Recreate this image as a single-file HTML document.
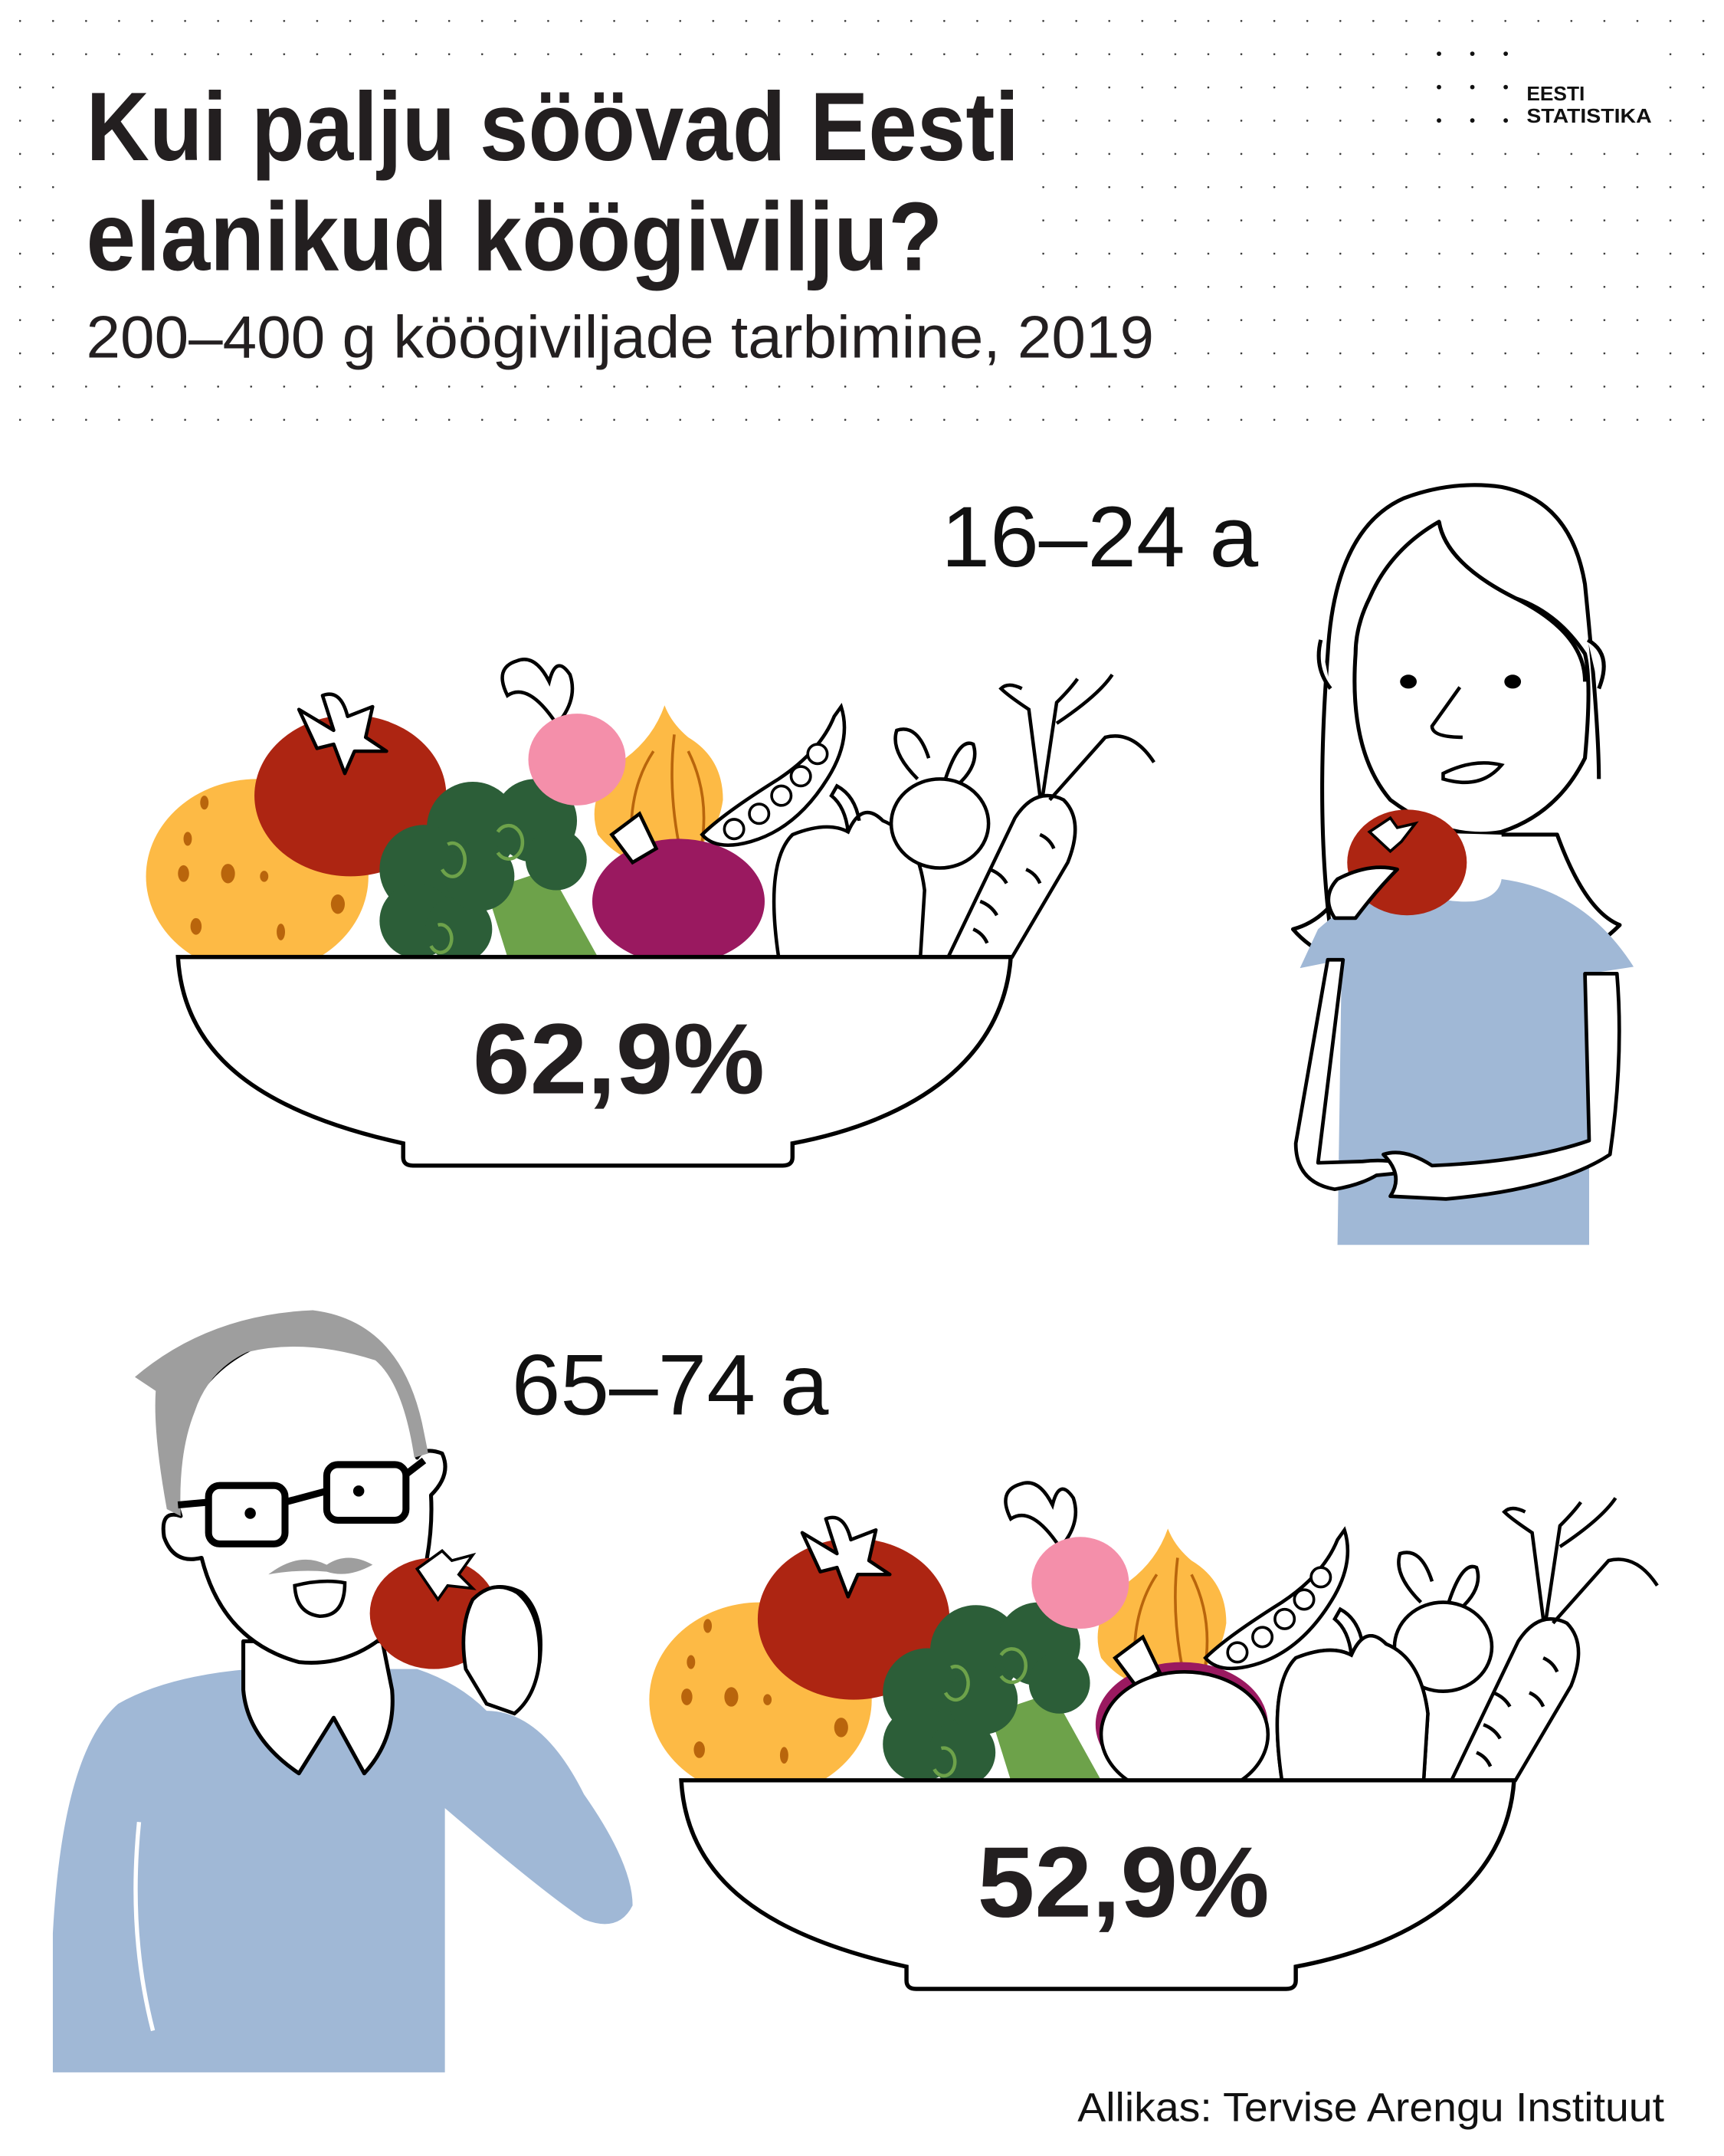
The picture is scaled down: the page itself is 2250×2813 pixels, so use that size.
<!DOCTYPE html>
<html><head><meta charset="utf-8"><style>
html,body{margin:0;padding:0;background:#fff}
svg{display:block}
</style></head><body>
<svg width="2250" height="2813" viewBox="0 0 1240 1550" xmlns="http://www.w3.org/2000/svg" font-family="'Liberation Sans', sans-serif">
<defs>
<pattern id="dots" x="13.8" y="14.3" width="23.74" height="23.9" patternUnits="userSpaceOnUse">
<circle cx="0.6" cy="0.6" r="0.75" fill="#333"/>
</pattern>
<g id="veg">
  <!-- potato -->
  <ellipse cx="185" cy="630" rx="80" ry="70" fill="#FDBA45"/>
  <g fill="#B9650C"><ellipse cx="135" cy="603" rx="3" ry="5"/><ellipse cx="147" cy="577" rx="3" ry="5"/><ellipse cx="132" cy="628" rx="4" ry="6"/><ellipse cx="164" cy="628" rx="5" ry="7"/><ellipse cx="190" cy="630" rx="3" ry="4"/><ellipse cx="243" cy="650" rx="5" ry="7"/><ellipse cx="141" cy="666" rx="4" ry="6"/><ellipse cx="202" cy="670" rx="3" ry="6"/></g>
  <!-- tomato -->
  <ellipse cx="252" cy="572" rx="69" ry="58" fill="#AD2512"/>
  <path d="M228,538 L215,510 L240,525 L232,500 Q245,495 250,515 L268,508 L263,530 L278,540 L255,540 L248,556 L240,535 Z" fill="#fff" stroke="#000" stroke-width="2.5" stroke-linejoin="round"/>
  <!-- broccoli -->
  <path d="M350,640 L395,625 L430,688 L365,688 Z" fill="#6DA24A"/>
  <g fill="#2C5E38"><circle cx="340" cy="595" r="33"/><circle cx="385" cy="590" r="30"/><circle cx="400" cy="618" r="22"/><circle cx="305" cy="625" r="32"/><circle cx="300" cy="662" r="27"/><circle cx="330" cy="668" r="24"/><circle cx="345" cy="630" r="25"/></g>
  <g fill="none" stroke="#6DA24A" stroke-width="2.5"><path d="M318,625 a9,12 0 1 0 4,-18"/><path d="M358,598 a10,12 0 1 1 0,15"/><path d="M310,680 a8,10 0 1 0 5,-15"/></g>
  <!-- onion -->
  <path d="M478,507 Q470,530 450,545 Q420,570 430,600 Q450,625 480,620 Q515,610 520,575 Q520,545 495,530 Q483,520 478,507Z" fill="#FDBA45"/>
  <path d="M470,540 Q450,570 455,615 M485,528 Q480,570 490,615 M495,540 Q510,570 505,605" fill="none" stroke="#B9650C" stroke-width="2"/>
  <!-- radish -->
  <path d="M400,520 Q380,490 365,500 Q355,480 372,475 Q385,470 395,490 Q400,470 410,485 Q415,500 405,515 Z" fill="#fff" stroke="#000" stroke-width="2.5"/>
  <ellipse cx="415" cy="546" rx="35" ry="33" fill="#F48FAA"/>
  <!-- beet -->
  <g class="beet"><ellipse cx="488" cy="648" rx="62" ry="45" fill="#9A1960"/></g>
  <path d="M440,600 L460,585 L472,610 L455,620 Z" fill="#fff" stroke="#000" stroke-width="2.5"/>
  <!-- pea pod -->
  <path d="M505,600 Q520,585 560,560 Q590,540 600,515 L605,508 Q612,530 598,555 Q575,595 540,605 Q515,612 505,600Z" fill="#fff" stroke="#000" stroke-width="2.5"/>
  <g fill="#fff" stroke="#000" stroke-width="2"><circle cx="528" cy="596" r="7"/><circle cx="546" cy="585" r="7"/><circle cx="562" cy="572" r="7"/><circle cx="576" cy="558" r="7"/><circle cx="588" cy="542" r="7"/></g>
  <!-- pepper -->
  <path d="M560,688 Q550,620 570,600 Q595,590 610,598 Q620,575 635,590 Q660,600 665,640 L662,688 Z" fill="#fff" stroke="#000" stroke-width="2.5"/>
  <path d="M610,598 Q608,580 598,572 L602,565 Q615,572 618,590" fill="none" stroke="#000" stroke-width="2.5"/>
  <!-- turnip -->
  <path d="M660,560 Q640,540 645,525 Q660,520 668,545 M680,560 Q690,530 700,535 Q705,550 688,565" fill="#fff" stroke="#000" stroke-width="2.5"/>
  <ellipse cx="676" cy="592" rx="35" ry="32" fill="#fff" stroke="#000" stroke-width="2.5"/>
  <!-- carrot -->
  <path d="M682,688 L730,588 Q745,565 765,575 Q780,590 768,620 L728,688 Z" fill="#fff" stroke="#000" stroke-width="2.5"/>
  <path d="M712,625 q8,3 12,10 M705,648 q8,3 12,10 M700,668 q7,3 10,10 M748,600 q7,3 10,10 M738,625 q7,3 10,10" fill="none" stroke="#000" stroke-width="2.5"/>
  <path d="M748,572 L740,510 Q725,500 720,495 Q725,490 735,495 M750,572 L760,505 Q770,495 775,488 M755,575 L795,530 Q815,525 830,548 M760,520 Q790,500 800,485" fill="none" stroke="#000" stroke-width="2.5"/>
</g>
</defs>
<rect width="1240" height="1550" fill="#fff"/>
<rect x="0" y="0" width="1240" height="305" fill="url(#dots)"/>
<rect x="45" y="48" width="701" height="176" fill="#fff"/>
<rect x="45" y="224" width="793" height="44" fill="#fff"/>
<rect x="1090" y="30" width="102" height="66" fill="#fff"/>
<g fill="#111"><circle cx="1035" cy="38.5" r="1.6"/><circle cx="1059" cy="38.5" r="1.6"/><circle cx="1083" cy="38.5" r="1.6"/><circle cx="1035" cy="62.5" r="1.6"/><circle cx="1059" cy="62.5" r="1.6"/><circle cx="1083" cy="62.5" r="1.6"/><circle cx="1035" cy="86.5" r="1.6"/><circle cx="1059" cy="86.5" r="1.6"/><circle cx="1083" cy="86.5" r="1.6"/></g>
<text x="1098" y="72" font-size="14.5" font-weight="bold" fill="#111">EESTI</text>
<text x="1098" y="88" font-size="14.5" font-weight="bold" fill="#111" textLength="90" lengthAdjust="spacingAndGlyphs">STATISTIKA</text>

<text x="62" y="115" font-size="70" font-weight="bold" fill="#231F20" textLength="671" lengthAdjust="spacingAndGlyphs">Kui palju söövad Eesti</text>
<text x="62" y="194" font-size="70" font-weight="bold" fill="#231F20" textLength="616" lengthAdjust="spacingAndGlyphs">elanikud köögivilju?</text>
<text x="62" y="257" font-size="43" fill="#231F20" textLength="768" lengthAdjust="spacingAndGlyphs">200–400 g köögiviljade tarbimine, 2019</text>

<text x="677" y="407" font-size="62" fill="#111" textLength="228" lengthAdjust="spacingAndGlyphs">16–24 a</text>
<text x="368" y="1017" font-size="62" fill="#111" textLength="228" lengthAdjust="spacingAndGlyphs">65–74 a</text>

<!-- bowl 1 -->
<use href="#veg"/>
<path d="M128,688 L727,688 C722,760 660,805 570,822 L570,832 Q570,838 563,838 L297,838 Q290,838 290,832 L290,822 C190,800 132,760 128,688Z" fill="#fff" stroke="#000" stroke-width="3"/>
<text x="445" y="786" font-size="72" font-weight="bold" fill="#231F20" text-anchor="middle" textLength="210" lengthAdjust="spacingAndGlyphs">62,9%</text>

<!-- bowl 2 -->
<g transform="translate(362,592)">
<use href="#veg"/>
<ellipse cx="490" cy="655" rx="60" ry="45" fill="#fff" stroke="#000" stroke-width="2.5"/>
<path d="M560,688 Q550,620 570,600 Q595,590 610,598 Q620,575 635,590 Q660,600 665,640 L662,688 Z" fill="#fff" stroke="#000" stroke-width="2.5"/>
<path d="M128,688 L727,688 C722,760 660,805 570,822 L570,832 Q570,838 563,838 L297,838 Q290,838 290,832 L290,822 C190,800 132,760 128,688Z" fill="#fff" stroke="#000" stroke-width="3"/>
<text x="446" y="786" font-size="72" font-weight="bold" fill="#231F20" text-anchor="middle" textLength="210" lengthAdjust="spacingAndGlyphs">52,9%</text>
</g>

<!-- girl -->
<g stroke="#000" stroke-width="2.8" stroke-linejoin="round">
  <path d="M930,668 Q960,660 975,620 L980,600 L1120,600 Q1140,655 1165,665 Q1150,680 1130,690 L960,690 Q940,680 930,668Z" fill="#fff"/>
  <path d="M960,690 Q945,600 955,470 Q960,380 1010,358 Q1045,345 1080,350 Q1130,360 1140,420 Q1150,520 1150,560" fill="none"/>
  <path d="M950,460 Q945,480 957,495 M1142,460 Q1160,470 1150,495" fill="#fff"/>
  <path d="M975,470 Q970,540 1000,575 Q1040,605 1080,598 Q1120,585 1140,545 Q1145,490 1140,470 Q1120,440 1090,430 Q1040,405 1035,375 Q1000,395 985,430 Q975,450 975,470Z" fill="#fff"/>
  <path d="M1035,375 Q1040,405 1090,430 Q1140,455 1140,490" fill="none"/>
</g>
<path d="M962,895 L965,690 L935,696 L948,668 Q980,640 1010,632 L1080,632 Q1140,640 1175,695 L1143,700 L1143,895Z" fill="#A0B8D6"/>
<path d="M1005,632 Q1030,650 1060,648 Q1078,645 1080,632 L1080,600 L1005,598Z" fill="#fff"/>
<g fill="#000"><ellipse cx="1013" cy="490" rx="6" ry="5"/><ellipse cx="1088" cy="490" rx="6" ry="5"/></g>
<path d="M1050,494 L1030,522 Q1030,530 1052,530 M1038,556 Q1060,545 1080,550 Q1065,568 1038,560Z" fill="#fff" stroke="#000" stroke-width="2.5"/>
<ellipse cx="1012" cy="620" rx="43" ry="38" fill="#AD2512"/>
<path d="M985,598 L1000,588 L1005,595 L1018,592 L1008,605 L1000,612 Z" fill="#fff" stroke="#000" stroke-width="2"/>
<g fill="#fff" stroke="#000" stroke-width="2.6" stroke-linejoin="round">
  <path d="M955,690 L932,822 Q932,850 960,855 Q978,852 990,845 L1020,842 Q1005,832 980,835 L948,836 L966,690Z"/>
  <path d="M962,632 Q985,620 1005,625 Q990,640 975,660 L960,660 Q950,645 962,632Z"/>
  <path d="M1140,700 L1143,820 Q1100,835 1030,838 Q1010,825 995,830 Q1010,845 1000,860 L1040,862 Q1120,855 1158,830 Q1168,760 1163,700Z"/>
</g>

<!-- man -->
<path d="M38,1490 L38,1390 Q45,1260 85,1225 Q120,1205 180,1200 L300,1200 Q330,1210 350,1230 Q390,1230 420,1290 Q455,1340 455,1370 Q445,1390 420,1380 Q390,1360 320,1300 L320,1490 Z" fill="#A0B8D6"/>
<path d="M100,1310 Q92,1390 110,1460" fill="none" stroke="#fff" stroke-width="3"/>
<g stroke="#000" stroke-width="2.8" stroke-linejoin="round" fill="#fff">
  <path d="M175,1180 L175,1215 Q178,1250 215,1275 L240,1235 L262,1275 Q285,1250 282,1215 L275,1180Z"/>
  <path d="M135,1015 Q120,1060 130,1090 Q115,1085 118,1105 Q125,1125 145,1120 Q160,1180 215,1195 Q265,1200 300,1150 Q312,1110 310,1075 Q325,1060 318,1045 Q305,1040 300,1048 Q300,1000 280,975 Q230,955 180,970 Q150,985 135,1015Z"/>
  <path d="M345,1210 Q335,1170 340,1150 Q355,1135 375,1145 Q392,1160 388,1195 Q380,1220 370,1230 Z"/>
</g>
<path d="M97,990 Q150,945 225,942 Q290,950 305,1030 L308,1045 L298,1048 Q290,995 270,978 Q220,962 178,972 Q150,985 140,1015 Q128,1045 130,1090 L120,1085 Q110,1030 112,1000 Z" fill="#9E9E9E"/>
<g fill="none" stroke="#000" stroke-width="5"><rect x="150" y="1068" width="55" height="42" rx="8"/><rect x="235" y="1053" width="57" height="40" rx="8"/><path d="M205,1080 L235,1072 M292,1060 L305,1050 M150,1080 L128,1082"/></g>
<g fill="#000"><circle cx="180" cy="1088" r="4"/><circle cx="258" cy="1072" r="4"/></g>
<path d="M193,1132 Q215,1115 235,1125 Q250,1115 268,1125 Q250,1135 235,1130 Q215,1128 193,1132Z" fill="#9E9E9E"/>
<path d="M212,1140 Q232,1135 248,1138 Q248,1162 230,1162 Q213,1160 212,1140Z" fill="#fff" stroke="#000" stroke-width="2.5"/>
<ellipse cx="312" cy="1160" rx="46" ry="40" fill="#AD2512"/>
<path d="M300,1128 L318,1115 L325,1122 L340,1118 L330,1132 L340,1142 L322,1140 L315,1150 Z" fill="#fff" stroke="#000" stroke-width="2"/>
<path d="M335,1200 Q330,1170 340,1150 Q355,1135 372,1145 Q390,1160 388,1195 Q385,1220 370,1232 L350,1225 Z" fill="#fff" stroke="#000" stroke-width="2.6"/>

<text x="1197" y="1525" font-size="29" fill="#111" text-anchor="end" textLength="422" lengthAdjust="spacingAndGlyphs">Allikas: Tervise Arengu Instituut</text>
</svg>
</body></html>
